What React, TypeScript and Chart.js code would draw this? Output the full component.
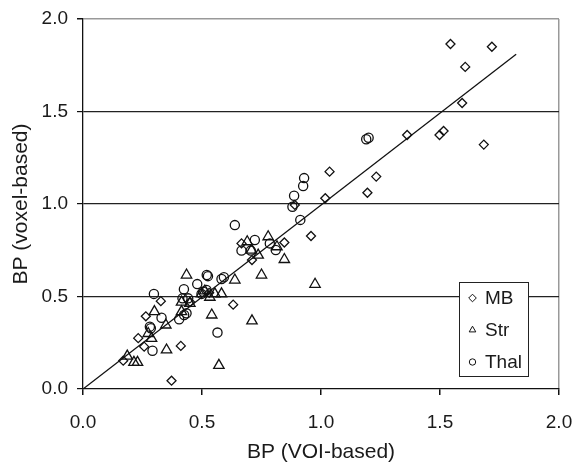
import React, { useEffect, useRef } from "react";
import { Chart, registerables } from "chart.js";

Chart.register(...registerables);

const mbX = [0.169, 0.232, 0.257, 0.264, 0.327, 0.372, 0.411, 0.45, 0.53, 0.631, 0.666, 0.71, 0.846, 0.89, 0.958, 1.018, 1.036, 1.195, 1.232, 1.362, 1.498, 1.515, 1.544, 1.593, 1.606, 1.684, 1.718];
const mbY = [0.153, 0.275, 0.229, 0.393, 0.475, 0.045, 0.233, 0.47, 0.52, 0.456, 0.787, 0.697, 0.792, 0.995, 0.827, 1.031, 1.175, 1.061, 1.148, 1.373, 1.373, 1.395, 1.865, 1.546, 1.741, 1.321, 1.85];

const strX = [0.186, 0.214, 0.229, 0.274, 0.288, 0.3, 0.348, 0.351, 0.414, 0.414, 0.435, 0.449, 0.498, 0.512, 0.533, 0.541, 0.554, 0.571, 0.582, 0.638, 0.69, 0.708, 0.71, 0.736, 0.75, 0.778, 0.815, 0.846, 0.975];
const strY = [0.178, 0.144, 0.144, 0.3, 0.274, 0.418, 0.346, 0.211, 0.418, 0.47, 0.616, 0.463, 0.515, 0.53, 0.496, 0.4, 0.514, 0.128, 0.514, 0.589, 0.796, 0.751, 0.368, 0.724, 0.616, 0.823, 0.769, 0.7, 0.566];

const thalX = [0.281, 0.285, 0.292, 0.298, 0.33, 0.404, 0.418, 0.425, 0.435, 0.424, 0.442, 0.48, 0.498, 0.505, 0.519, 0.52, 0.525, 0.565, 0.582, 0.592, 0.638, 0.666, 0.705, 0.722, 0.785, 0.81, 0.88, 0.887, 0.913, 0.925, 0.929, 1.19, 1.2];
const thalY = [0.337, 0.328, 0.207, 0.514, 0.385, 0.377, 0.49, 0.4, 0.409, 0.539, 0.49, 0.567, 0.514, 0.526, 0.535, 0.616, 0.61, 0.305, 0.595, 0.604, 0.886, 0.748, 0.748, 0.805, 0.787, 0.751, 0.985, 1.045, 0.914, 1.097, 1.14, 1.35, 1.358];

const fitX = [0, 1.82];
const fitY = [0, 1.81];

const seriesNames = ["MB", "Str", "Thal"];
const axisTicks = [0, 0.5, 1.0, 1.5, 2.0];
const xTitle = "BP (VOI-based)";
const yTitle = "BP (voxel-based)";

const FONT = "'Liberation Sans', Arial, sans-serif";
const TXT = "#1a1a1a";

const zip = (xs: number[], ys: number[]) => xs.map((x, i) => ({ x, y: ys[i] }));

const legendPlugin = {
  id: "boxLegend",
  afterDraw(chart: any) {
    const { ctx } = chart;
    const x0 = 459, y0 = 282, w = 69, h = 94;
    ctx.save();
    ctx.fillStyle = "#fff";
    ctx.fillRect(x0, y0, w, h);
    ctx.strokeStyle = "#222";
    ctx.lineWidth = 1;
    ctx.strokeRect(x0 + 0.5, y0 + 0.5, w, h);
    const rows = [298, 330, 362];
    const styles = ["rectRot", "triangle", "circle"];
    ctx.font = `19px ${FONT}`;
    ctx.textBaseline = "middle";
    ctx.textAlign = "left";
    rows.forEach((ry, i) => {
      ctx.strokeStyle = "#111";
      ctx.fillStyle = "#fff";
      ctx.lineWidth = 1;
      const ps = styles[i];
      const r = ps === "circle" ? 3.2 : 3.8;
      ctx.beginPath();
      if (ps === "rectRot") {
        ctx.moveTo(472.5, ry - r);
        ctx.lineTo(472.5 + r, ry);
        ctx.lineTo(472.5, ry + r);
        ctx.lineTo(472.5 - r, ry);
        ctx.closePath();
      } else if (ps === "triangle") {
        ctx.moveTo(472.5, ry - r);
        ctx.lineTo(472.5 + r * 0.87, ry + r * 0.5);
        ctx.lineTo(472.5 - r * 0.87, ry + r * 0.5);
        ctx.closePath();
      } else {
        ctx.arc(472.5, ry, r, 0, Math.PI * 2);
      }
      ctx.fill();
      ctx.stroke();
      ctx.fillStyle = TXT;
      ctx.fillText(seriesNames[i], 485, ry + 1);
    });
    ctx.restore();
  },
};

export default function App() {
  const ref = useRef<HTMLCanvasElement | null>(null);
  useEffect(() => {
    document.body.style.margin = "0";
    const canvas = ref.current!;
    const pointBase = {
      showLine: false,
      borderColor: "#111",
      backgroundColor: "rgba(255,255,255,0)",
      borderWidth: 1.3,
    };
    const chart = new Chart(canvas, {
      type: "scatter",
      data: {
        datasets: [
          { ...pointBase, label: seriesNames[0], data: zip(mbX, mbY), pointStyle: "rectRot", pointRadius: 4.5 },
          { ...pointBase, label: seriesNames[1], data: zip(strX, strY), pointStyle: "triangle", pointRadius: 6 },
          { ...pointBase, label: seriesNames[2], data: zip(thalX, thalY), pointStyle: "circle", pointRadius: 4.6 },
          {
            type: "line" as any,
            label: "fit",
            data: zip(fitX, fitY),
            borderColor: "#111",
            borderWidth: 1.3,
            pointRadius: 0,
            showLine: true,
            fill: false,
          },
        ],
      },
      options: {
        responsive: false,
        animation: false,
        layout: { padding: { top: 19, right: 17, left: 0, bottom: 0 } },
        plugins: { legend: { display: false }, tooltip: { enabled: false } },
        scales: {
          x: {
            type: "linear",
            min: 0,
            max: 2,
            afterFit: (s: any) => {
              s.height = 465 - 389;
              s.paddingLeft = 0;
              s.paddingRight = 0;
            },
            afterBuildTicks: (s: any) => { s.ticks = axisTicks.map((v) => ({ value: v })); },
            ticks: {
              callback: (v: any) => Number(v).toFixed(1),
              font: { family: FONT, size: 19 },
              color: TXT,
              padding: 16,
              maxRotation: 0,
            },
            grid: {
              color: (c: any) => (c.tick && c.tick.value === 2 ? "#999" : "rgba(0,0,0,0)"),
              tickColor: "#111",
              tickLength: 6,
              lineWidth: 1.5,
            },
            border: { color: "#111", width: 1.3 },
            title: {
              display: true,
              text: xTitle,
              font: { family: FONT, size: 21 },
              color: TXT,
              padding: { top: 0, bottom: 0 },
            },
          },
          y: {
            type: "linear",
            min: 0,
            max: 2,
            afterFit: (s: any) => {
              s.width = 83;
              s.paddingTop = 0;
              s.paddingBottom = 0;
            },
            afterBuildTicks: (s: any) => { s.ticks = axisTicks.map((v) => ({ value: v })); },
            ticks: {
              callback: (v: any) => Number(v).toFixed(1),
              font: { family: FONT, size: 19 },
              color: TXT,
              padding: 9,
            },
            grid: {
              color: (c: any) => {
                const v = c.tick && c.tick.value;
                if (v === 0) return "rgba(0,0,0,0)";
                if (v === 2) return "#999";
                return "#222";
              },
              lineWidth: (c: any) => (c.tick && c.tick.value === 2 ? 1.5 : 1.2),
              tickColor: "#111",
              tickLength: 6,
            },
            border: { color: "#111", width: 1.3 },
            title: {
              display: true,
              text: yTitle,
              font: { family: FONT, size: 21 },
              color: TXT,
              padding: { top: 9, bottom: 0 },
            },
          },
        },
      },
      plugins: [legendPlugin],
    } as any);
    return () => chart.destroy();
  }, []);
  return (
    <div style={{ width: 576, height: 465 }}>
      <canvas ref={ref} width={576} height={465} style={{ display: "block" }} />
    </div>
  );
}
